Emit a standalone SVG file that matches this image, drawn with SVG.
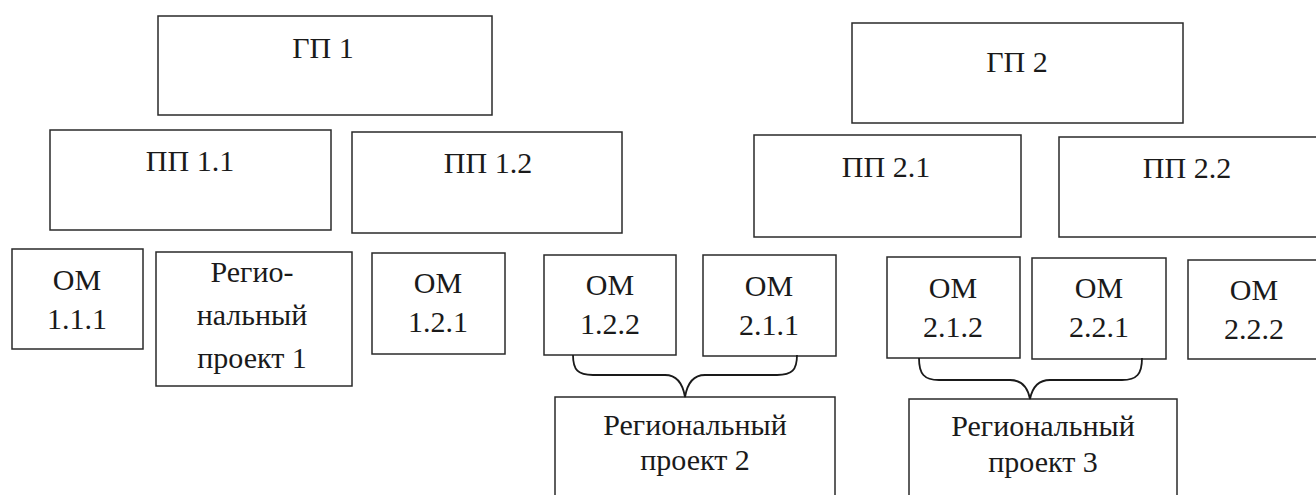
<svg xmlns="http://www.w3.org/2000/svg" width="1316" height="495" viewBox="0 0 1316 495">
<style>
.box{fill:#fff;stroke:#2a2a2a;stroke-width:1.5}
.t{font-family:"Liberation Serif","Times New Roman",serif;font-size:30px;fill:#1a1a1a;text-anchor:middle}
.br{fill:none;stroke:#1a1a1a;stroke-width:1.8}
</style>
<rect width="1316" height="495" fill="#fff"/>
<g id="gp1"><rect class="box" x="158" y="16" width="334" height="99"/><text class="t" x="323" y="58">ГП 1</text></g>
<g id="gp2"><rect class="box" x="852" y="23" width="331" height="100"/><text class="t" x="1017" y="72">ГП 2</text></g>
<g id="pp11"><rect class="box" x="50" y="130" width="281" height="100"/><text class="t" x="190" y="171">ПП 1.1</text></g>
<g id="pp12"><rect class="box" x="352" y="132" width="270" height="101"/><text class="t" x="488" y="173">ПП 1.2</text></g>
<g id="pp21"><rect class="box" x="754" y="135" width="267" height="102"/><text class="t" x="886" y="177">ПП 2.1</text></g>
<g id="pp22"><rect class="box" x="1059" y="137" width="265" height="100"/><text class="t" x="1187" y="178">ПП 2.2</text></g>
<g id="om111"><rect class="box" x="12" y="249" width="131" height="100"/><text class="t" x="77" y="290">ОМ</text><text class="t" x="77" y="329">1.1.1</text></g>
<g id="rp1"><rect class="box" x="156" y="252" width="196" height="134"/><text class="t" x="252" y="282">Регио-</text><text class="t" x="252" y="325">нальный</text><text class="t" x="252" y="368">проект 1</text></g>
<g id="om121"><rect class="box" x="372" y="253" width="133" height="101"/><text class="t" x="438" y="293">ОМ</text><text class="t" x="438" y="332">1.2.1</text></g>
<g id="om122"><rect class="box" x="544" y="255" width="132" height="100"/><text class="t" x="610" y="295">ОМ</text><text class="t" x="610" y="334">1.2.2</text></g>
<g id="om211"><rect class="box" x="703" y="255" width="133" height="101"/><text class="t" x="769" y="296">ОМ</text><text class="t" x="769" y="335">2.1.1</text></g>
<g id="om212"><rect class="box" x="887" y="257" width="133" height="101"/><text class="t" x="953" y="298">ОМ</text><text class="t" x="953" y="337">2.1.2</text></g>
<g id="om221"><rect class="box" x="1032" y="258" width="134" height="101"/><text class="t" x="1099" y="298">ОМ</text><text class="t" x="1099" y="337">2.2.1</text></g>
<g id="om222"><rect class="box" x="1188" y="260" width="134" height="99"/><text class="t" x="1254" y="300">ОМ</text><text class="t" x="1254" y="339">2.2.2</text></g>
<g id="rp2"><rect class="box" x="555" y="397" width="280" height="102"/><text class="t" x="695" y="435">Региональный</text><text class="t" x="695" y="470">проект 2</text></g>
<g id="rp3"><rect class="box" x="909" y="399" width="268" height="102"/><text class="t" x="1043" y="436">Региональный</text><text class="t" x="1043" y="472">проект 3</text></g>
<g id="connectors">
<path class="br" d="M573,355 C573,370 578,375 593,375 L665,375 C678,375 683,385 685,397 C687,385 692,375 705,375 L777,375 C792,375 797,370 797,355"/>
<path class="br" d="M919,358 C919,374 924,380 939,380 L1010,380 C1023,380 1028,389 1030,399 C1032,389 1037,380 1050,380 L1122,380 C1137,380 1142,374 1142,358"/>
</g>
</svg>
